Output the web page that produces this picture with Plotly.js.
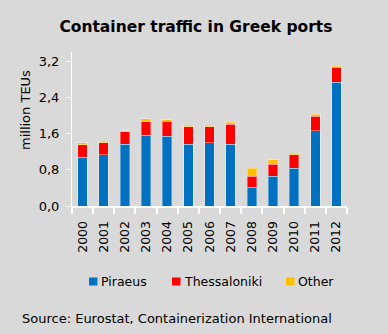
<!DOCTYPE html>
<html><head><meta charset="utf-8">
<script src="https://cdn.plot.ly/plotly-3.0.1.min.js"></script>
<style>html,body{margin:0;padding:0;background:#d9d9d9;}#c{width:388px;height:334px;}</style>
</head><body><div id="c"></div>
<script>
var years = ['2000','2001','2002','2003','2004','2005','2006','2007','2008','2009','2010','2011','2012'];
var piraeus = [1.08,1.13,1.37,1.57,1.55,1.37,1.40,1.37,0.42,0.66,0.84,1.67,2.74];
var thessaloniki = [0.28,0.27,0.27,0.30,0.33,0.39,0.36,0.44,0.24,0.26,0.30,0.32,0.33];
var other = [0.04,0.03,0.03,0.06,0.03,0.03,0.03,0.04,0.18,0.10,0.03,0.04,0.03];
var seriesNames = ['Piraeus','Thessaloniki','Other'];
var seriesColors = ['#0070c0','#ff0000','#ffc000'];
var seriesValues = [piraeus, thessaloniki, other];

var F = 'DejaVu Sans, Verdana, sans-serif';
var W = 388, H = 334, M = {l:72, r:41, t:52, b:128};
var pw = W - M.l - M.r, ph = H - M.t - M.b;
function px(x){ return (x - M.l) / pw; }
function py(y){ return (H - M.b - y) / ph; }

var line = {color:'rgba(255,255,255,0.35)', width:1};
var traces = seriesNames.map(function(n,i){
  return {type:'bar', name:n, x:years, y:seriesValues[i], marker:{color:seriesColors[i], line:line}, width:0.45};
});

// legend (drawn manually to match compact layout)
var legX = [89, 172, 286];
var shapes = [], annotations = [];
seriesNames.forEach(function(n,i){
  shapes.push({type:'rect', xref:'paper', yref:'paper', x0:px(legX[i]), x1:px(legX[i]+8.5), y0:py(285.5), y1:py(277.5), fillcolor:seriesColors[i], line:{width:0}});
  annotations.push({text:n, xref:'paper', yref:'paper', x:px(legX[i]+10), xanchor:'left', y:py(281.5), yanchor:'middle', showarrow:false, font:{family:F,size:12.5,color:'#000'}});
});
annotations.push({text:'million TEUs', xref:'paper', yref:'paper', x:px(25), y:py(110), textangle:-90, showarrow:false, font:{family:F,size:13}, xanchor:'center', yanchor:'middle'});
annotations.push({text:'Source: Eurostat, Containerization International', xref:'paper', yref:'paper', x:px(20), xanchor:'left', y:py(318), yanchor:'middle', showarrow:false, font:{family:F,size:13}});

var layout = {
 width:W, height:H, barmode:'stack',
 paper_bgcolor:'#d9d9d9', plot_bgcolor:'#d9d9d9',
 margin:M,
 font:{family:F, size:12, color:'#000'},
 separators:',.',
 title:{text:'<b>Container traffic in Greek ports</b>', font:{family:F, size:15.5, color:'#000'}, x:0.505, xanchor:'center', y:0.92, yanchor:'middle'},
 xaxis:{type:'category', showgrid:false, showline:true, linecolor:'#fff', linewidth:2, ticks:'outside', tickson:'boundaries', tickcolor:'#fff', ticklen:6, tickwidth:2, tickangle:-90, tickfont:{family:F,size:12.5}, ticklabelstandoff:8},
 yaxis:{range:[0,3.41], tickvals:[0,0.8,1.6,2.4,3.2], tickformat:'.1f', showgrid:false, zeroline:false, showline:true, linecolor:'#fff', linewidth:1, ticks:'outside', tickcolor:'#fff', ticklen:5, tickfont:{family:F,size:13}, ticklabelstandoff:4},
 showlegend:false,
 shapes:shapes,
 annotations:annotations
};
Plotly.newPlot('c', traces, layout, {displayModeBar:false, staticPlot:true});
</script></body></html>
